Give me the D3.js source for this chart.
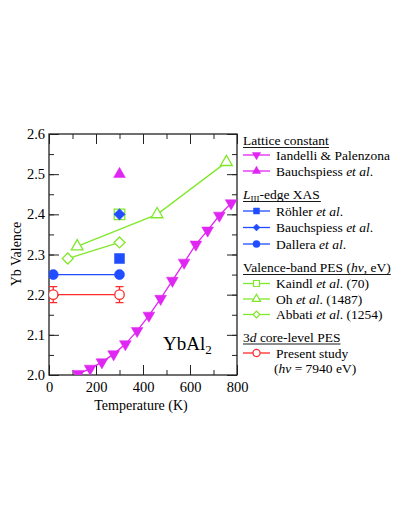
<!DOCTYPE html>
<html>
<head>
<meta charset="utf-8">
<script src="https://cdn.jsdelivr.net/npm/d3@7"></script>
<style>
    body { margin: 0; background: #fff; }
    svg text { font-family: "Liberation Serif", "DejaVu Serif", serif; fill: #000; }
</style>
</head>
<body>
<div id="chart"></div>
<script>
// temperatures (K) and Yb valence
var iandelliT = [125, 175, 225, 275, 325, 375, 425, 475, 525, 575, 625, 675, 725, 775];
var iandelliV = [2.003, 2.016, 2.032, 2.052, 2.077, 2.110, 2.148, 2.190, 2.235, 2.280, 2.325, 2.360, 2.397, 2.428];
var bauchLatT = [300];
var bauchLatV = [2.50];
var rohlerT = [300];
var rohlerV = [2.29];
var bauchXasT = [300];
var bauchXasV = [2.40];
var dalleraT = [18, 300];
var dalleraV = [2.25, 2.25];
var kaindlT = [300];
var kaindlV = [2.40];
var ohT = [120, 460, 755];
var ohV = [2.32, 2.40, 2.53];
var abbatiT = [80, 300];
var abbatiV = [2.29, 2.33];
var presentT = [18, 300];
var presentV = [2.20, 2.20];
var presentErr = [0.02, 0.02];

var xTicks = [0, 200, 400, 600, 800];
var yTicks = [2.0, 2.1, 2.2, 2.3, 2.4, 2.5, 2.6];

var magenta = "#e026f2",
    blue = "#1f4dff",
    green = "#80e82a",
    red = "#ff2a2a";

var Chart = {
    width: 399,
    height: 531,
    left: 49,
    right: 237,
    top: 134,
    bottom: 375,
    svg: null,
    x: null,
    y: null,

    draw: function () {
        this.svg = d3.select("#chart").append("svg")
            .attr("width", this.width)
            .attr("height", this.height);

        this.x = d3.scaleLinear().domain([0, 800]).range([this.left, this.right]);
        this.y = d3.scaleLinear().domain([2.0, 2.6]).range([this.bottom, this.top]);

        this.svg.append("clipPath").attr("id", "plot-clip")
            .append("rect")
            .attr("x", this.left).attr("y", this.top)
            .attr("width", this.right - this.left)
            .attr("height", this.bottom - this.top);

        this.drawAxes();
        this.drawData();
        this.drawLegend();
    },

    drawAxes: function () {
        var x = this.x, y = this.y, svg = this.svg;
        var h = this.bottom - this.top, w = this.right - this.left;

        var xMinor = d3.range(0, 801, 100);
        var yMinor = d3.range(0, 13).map(function (i) { return 2.0 + i * 0.05; });

        svg.append("g").attr("transform", "translate(0," + this.bottom + ")")
            .call(d3.axisBottom(x).tickValues(xMinor).tickSize(-5).tickFormat(""));
        svg.append("g").attr("transform", "translate(0," + this.bottom + ")")
            .call(d3.axisBottom(x).tickValues(xTicks).tickSize(-10).tickPadding(7)
                .tickFormat(d3.format("d")));
        svg.append("g").attr("transform", "translate(0," + this.top + ")")
            .call(d3.axisTop(x).tickValues(xMinor).tickSize(-5).tickFormat(""));
        svg.append("g").attr("transform", "translate(0," + this.top + ")")
            .call(d3.axisTop(x).tickValues(xTicks).tickSize(-10).tickFormat(""));

        svg.append("g").attr("transform", "translate(" + this.left + ",0)")
            .call(d3.axisLeft(y).tickValues(yMinor).tickSize(-5).tickFormat(""));
        svg.append("g").attr("transform", "translate(" + this.left + ",0)")
            .call(d3.axisLeft(y).tickValues(yTicks).tickSize(-10).tickPadding(4)
                .tickFormat(d3.format(".1f")));
        svg.append("g").attr("transform", "translate(" + this.right + ",0)")
            .call(d3.axisRight(y).tickValues(yMinor).tickSize(-5).tickFormat(""));
        svg.append("g").attr("transform", "translate(" + this.right + ",0)")
            .call(d3.axisRight(y).tickValues(yTicks).tickSize(-10).tickFormat(""));

        svg.selectAll(".domain").remove();
        svg.selectAll(".tick line").attr("stroke", "#222").attr("stroke-width", 1);
        svg.selectAll(".tick text")
            .style("font-family", "Liberation Serif")
            .style("font-size", "14.5px")
            .attr("fill", "#000");

        svg.append("rect")
            .attr("x", this.left).attr("y", this.top)
            .attr("width", w).attr("height", h)
            .attr("fill", "none").attr("stroke", "#222").attr("stroke-width", 1.3);

        svg.append("text")
            .attr("x", (this.left + this.right) / 2 - 2)
            .attr("y", 410)
            .attr("text-anchor", "middle")
            .style("font-size", "14px")
            .text("Temperature (K)");

        svg.append("text")
            .attr("transform", "translate(21,254) rotate(-90)")
            .attr("text-anchor", "middle")
            .style("font-size", "14px")
            .text("Yb Valence");

        var label = svg.append("text")
            .attr("x", 163).attr("y", 350)
            .style("font-size", "19px")
            .text("YbAl");
        label.append("tspan").attr("dy", 4).style("font-size", "13px").text("2");
    },

    symbol: function (type, size) {
        return d3.symbol().type(type).size(size)();
    },

    series: function (xs, ys, opts) {
        var x = this.x, y = this.y;
        var pts = xs.map(function (d, i) { return [d, ys[i]]; });
        var g = this.svg.append("g").attr("clip-path", "url(#plot-clip)");

        if (opts.line) {
            g.append("path")
                .datum(pts)
                .attr("fill", "none")
                .attr("stroke", opts.color)
                .attr("stroke-width", 1.3)
                .attr("d", d3.line().x(function (d) { return x(d[0]); }).y(function (d) { return y(d[1]); }));
        }

        if (opts.err) {
            pts.forEach(function (p, i) {
                var top = y(p[1] + opts.err[i]), bot = y(p[1] - opts.err[i]), cx = x(p[0]);
                g.append("path")
                    .attr("d", "M" + cx + "," + top + "V" + bot +
                        "M" + (cx - 4) + "," + top + "H" + (cx + 4) +
                        "M" + (cx - 4) + "," + bot + "H" + (cx + 4))
                    .attr("stroke", opts.color).attr("stroke-width", 1.3).attr("fill", "none");
            });
        }

        g.selectAll(null)
            .data(pts)
            .enter()
            .append("path")
            .attr("d", this.symbol(opts.type, opts.size))
            .attr("transform", function (d) {
                return "translate(" + x(d[0]) + "," + y(d[1]) + ") rotate(" + (opts.rotate || 0) + ")";
            })
            .attr("fill", opts.open ? "#fff" : opts.color)
            .attr("stroke", opts.color)
            .attr("stroke-width", opts.open ? 1.3 : 0.5);
    },

    drawData: function () {
        this.series(presentT, presentV, { color: red, line: true, err: presentErr, type: d3.symbolCircle, size: 70, open: true });
        this.series(dalleraT, dalleraV, { color: blue, line: true, type: d3.symbolCircle, size: 80 });
        this.series(abbatiT, abbatiV, { color: green, line: true, type: d3.symbolSquare, size: 60, rotate: 45, open: true });
        this.series(ohT, ohV, { color: green, line: true, type: d3.symbolTriangle, size: 60, open: true });
        this.series(kaindlT, kaindlV, { color: green, type: d3.symbolSquare, size: 110, open: true });
        this.series(bauchXasT, bauchXasV, { color: blue, type: d3.symbolSquare, size: 64, rotate: 45 });
        this.series(rohlerT, rohlerV, { color: blue, type: d3.symbolSquare, size: 100 });
        this.series(bauchLatT, bauchLatV, { color: magenta, type: d3.symbolTriangle, size: 60 });
        this.series(iandelliT, iandelliV, { color: magenta, line: true, type: d3.symbolTriangle, size: 60, rotate: 180 });
    },

    drawLegend: function () {
        var svg = this.svg;
        var lx = 243, tx = 276, fs = "13.5px";
        var self = this;

        var header = function (yy, build) {
            var t = svg.append("text").attr("x", lx).attr("y", yy).style("font-size", fs);
            build(t);
            var bb = t.node().getBBox();
            svg.append("line")
                .attr("x1", lx).attr("x2", lx + bb.width)
                .attr("y1", yy + 2.5).attr("y2", yy + 2.5)
                .attr("stroke", "#000").attr("stroke-width", 0.9);
        };

        var entry = function (yy, color, type, size, rotate, open, build) {
            svg.append("line")
                .attr("x1", lx).attr("x2", lx + 27)
                .attr("y1", yy).attr("y2", yy)
                .attr("stroke", color).attr("stroke-width", 1.3);
            svg.append("path")
                .attr("d", self.symbol(type, size))
                .attr("transform", "translate(" + (lx + 13.5) + "," + yy + ") rotate(" + rotate + ")")
                .attr("fill", open ? "#fff" : color)
                .attr("stroke", color)
                .attr("stroke-width", open ? 1.2 : 0.5);
            var t = svg.append("text").attr("x", tx).attr("y", yy + 4.5).style("font-size", fs);
            build(t);
        };

        var etal = function (t, pre, post) {
            t.append("tspan").text(pre);
            t.append("tspan").style("font-style", "italic").text("et al");
            t.append("tspan").text("." + (post || ""));
        };

        header(145, function (t) { t.text("Lattice constant"); });
        entry(155, magenta, d3.symbolTriangle, 30, 180, false, function (t) { t.text("Iandelli & Palenzona"); });
        entry(171, magenta, d3.symbolTriangle, 30, 0, false, function (t) { etal(t, "Bauchspiess "); });

        header(199, function (t) {
            t.append("tspan").style("font-style", "italic").text("L");
            t.append("tspan").attr("dy", 3).style("font-size", "9px").text("III");
            t.append("tspan").attr("dy", -3).text("-edge XAS");
        });
        entry(211, blue, d3.symbolSquare, 36, 0, false, function (t) { etal(t, "Röhler "); });
        entry(227.5, blue, d3.symbolSquare, 24, 45, false, function (t) { etal(t, "Bauchspiess "); });
        entry(244, blue, d3.symbolCircle, 40, 0, false, function (t) { etal(t, "Dallera "); });

        header(272, function (t) {
            t.append("tspan").text("Valence-band PES (");
            t.append("tspan").style("font-style", "italic").text("hν");
            t.append("tspan").text(", eV)");
        });
        entry(283.5, green, d3.symbolSquare, 36, 0, true, function (t) { etal(t, "Kaindl ", " (70)"); });
        entry(299, green, d3.symbolTriangle, 30, 0, true, function (t) { etal(t, "Oh ", " (1487)"); });
        entry(314.5, green, d3.symbolSquare, 22, 45, true, function (t) { etal(t, "Abbati ", " (1254)"); });

        header(341.5, function (t) {
            t.append("tspan").text("3");
            t.append("tspan").style("font-style", "italic").text("d");
            t.append("tspan").text(" core-level PES");
        });
        entry(353, red, d3.symbolCircle, 40, 0, true, function (t) { t.text("Present study"); });

        var last = svg.append("text").attr("x", tx - 2).attr("y", 373).style("font-size", fs);
        last.append("tspan").text("(");
        last.append("tspan").style("font-style", "italic").text("hν");
        last.append("tspan").text(" = 7940 eV)");
    }
};

Chart.draw();
</script>
</body>
</html>
